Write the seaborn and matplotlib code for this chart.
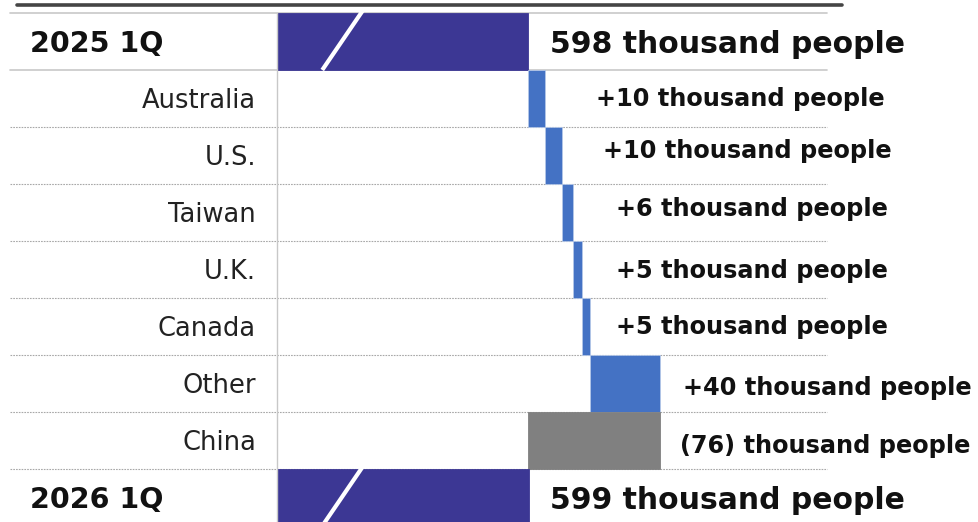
import matplotlib
matplotlib.use("Agg")
import matplotlib.pyplot as plt
import matplotlib.transforms as mtransforms
import seaborn as sns
import pandas as pd

# ---------------- data ----------------
categories = ["2025 1Q", "Australia", "U.S.", "Taiwan", "U.K.", "Canada", "Other", "China", "2026 1Q"]
start_total = 598
deltas = [10, 10, 6, 5, 5, 40, -76]
end_total = 599
value_labels = ["598 thousand people", "+10 thousand people", "+10 thousand people",
                "+6 thousand people", "+5 thousand people", "+5 thousand people",
                "+40 thousand people", "(76) thousand people", "599 thousand people"]

# ---------------- layout / style ----------------
W, H = 979, 522
axis_floor = 454          # truncated axis start (broken bar)
axis_ceiling = 770
label_x_px = [550, 596, 603, 616, 616, 616, 683, 680, 550]
label_dy = [0.05, 0.0, -0.08, -0.06, 0.03, 0.01, 0.08, 0.1, 0.05]
c_total = "#3c3794"
c_up = "#4472c4"
c_down = "#808080"

sns.set_theme(style="white")
plt.rcParams["font.family"] = ["DejaVu Sans"]

fig = plt.figure(figsize=(W / 100, H / 100), dpi=100)
ax_left, ax_right, ax_top = 277, 827, 13
row_h = 57
ax = fig.add_axes([ax_left / W, 1 - (ax_top + 9 * row_h) / H, (ax_right - ax_left) / W, 9 * row_h / H])

# waterfall geometry
rows = []
rows.append((categories[0], axis_floor, start_total - axis_floor, c_total))
cum = start_total
for cat, d in zip(categories[1:-1], deltas):
    if d >= 0:
        rows.append((cat, cum, d, c_up))
    else:
        rows.append((cat, cum + d, -d, c_down))
    cum += d
rows.append((categories[-1], axis_floor, end_total - axis_floor, c_total))
df = pd.DataFrame(rows, columns=["category", "start", "width", "color"])

for _, r in df.iterrows():
    sns.barplot(x=[r["width"]], y=[r["category"]], order=categories, left=r["start"],
                color=r["color"], saturation=1, width=1.0, orient="h", ax=ax,
                edgecolor="#b4c7e7" if r["color"] == c_up else r["color"], linewidth=0.6)

ax.set_xlim(axis_floor, axis_ceiling)
ax.set_ylim(8.5, -0.5)
ax.set_xticks([])
ax.set_yticks([])
ax.set_xlabel("")
ax.set_ylabel("")
for s in ["top", "right", "bottom"]:
    ax.spines[s].set_visible(False)
ax.spines["left"].set_color("#c8c8c8")
ax.spines["left"].set_linewidth(1.0)

# row separators
xmin = (10 - ax_left) / (ax_right - ax_left)
for b in [-0.5, 0.5]:
    ax.axhline(b, xmin=xmin, xmax=1, color="#c8c8c8", lw=1.2, clip_on=False, zorder=0.5)
for b in [1.5, 2.5, 3.5, 4.5, 5.5, 6.5, 7.5]:
    ax.axhline(b, xmin=xmin, xmax=1, color="#a8a8a8", lw=0.8, ls=(0, (1.5, 1)), clip_on=False, zorder=0.5)

# top thick rule
fig.add_artist(plt.Line2D([17 / W, 842 / W], [1 - 5 / H, 1 - 5 / H], color="#454545", lw=2.6))

# break slashes on total bars
for pos in [0, 8]:
    ax.plot([480, 505], [pos + 0.5, pos - 0.62], color="white", lw=3, solid_capstyle="butt",
            clip_on=False, zorder=5)

# category labels
trans_lab = mtransforms.blended_transform_factory(fig.transFigure, ax.transData)
for i, cat in enumerate(categories):
    if i in (0, len(categories) - 1):
        ax.text(30 / W, i + 0.05, cat, transform=trans_lab, ha="left", va="center",
                fontsize=20.5, fontweight="bold", color="#111111")
    else:
        ax.text(256 / W, i + 0.05, cat, transform=trans_lab, ha="right", va="center",
                fontsize=18.5, color="#222222")

# value labels
for i, (lab, xp, dy) in enumerate(zip(value_labels, label_x_px, label_dy)):
    big = i in (0, len(categories) - 1)
    ax.text(xp / W, i + dy, lab, transform=trans_lab, ha="left", va="center",
            fontsize=21.5 if big else 17.3, fontweight="bold", color="#111111", clip_on=False)

fig.savefig("out.png", dpi=100)
